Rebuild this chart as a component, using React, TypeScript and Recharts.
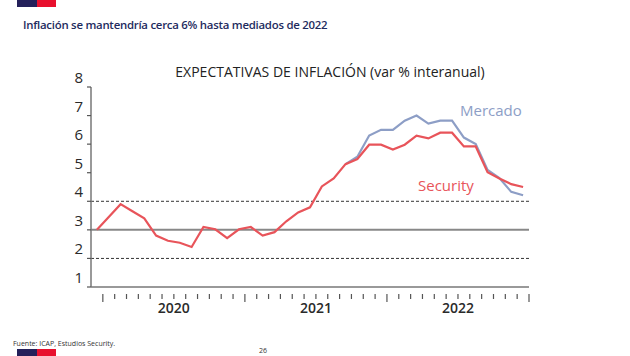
import React from "react";
import { LineChart, Line, XAxis, YAxis, ReferenceLine } from "recharts";

const months: string[] = [
  "dic-19",
  "ene-20", "feb-20", "mar-20", "abr-20", "may-20", "jun-20", "jul-20", "ago-20", "sep-20", "oct-20", "nov-20", "dic-20",
  "ene-21", "feb-21", "mar-21", "abr-21", "may-21", "jun-21", "jul-21", "ago-21", "sep-21", "oct-21", "nov-21", "dic-21",
  "ene-22", "feb-22", "mar-22", "abr-22", "may-22", "jun-22", "jul-22", "ago-22", "sep-22", "oct-22", "nov-22", "dic-22",
];

const security: number[] = [
  3.0, 3.45, 3.9, 3.65, 3.4, 2.8, 2.62, 2.55, 2.4, 3.1, 3.02, 2.71, 3.02, 3.1, 2.8, 2.92,
  3.3, 3.61, 3.79, 4.52, 4.8, 5.3, 5.48, 5.98, 5.98, 5.81, 5.98, 6.3, 6.2, 6.4, 6.4,
  5.92, 5.92, 5.02, 4.8, 4.6, 4.5,
];

const mercado: (number | null)[] = [
  null, null, null, null, null, null, null, null, null, null, null, null, null, null, null, null,
  null, null, null, null, null, 5.3, 5.56, 6.3, 6.5, 6.5, 6.82, 7.0, 6.72, 6.82, 6.82,
  6.23, 6.0, 5.1, 4.81, 4.33, 4.21,
];

const yTicks: number[] = [1, 2, 3, 4, 5, 6, 7, 8];
const yearLabels: { [k: number]: string } = { 7: "2020", 19: "2021", 31: "2022" };
const yearBoundaries: number[] = [1, 13, 25, 37];

const data = months.map((m, i) => ({
  month: m,
  x: i + 0.5,
  security: security[i],
  mercado: mercado[i],
}));

const xTicks: number[] = Array.from({ length: months.length + 1 }, (_, k) => k);

const FONT = "'Open Sans', 'Noto Sans', sans-serif";

const XTick = (props: any) => {
  const { x, y, payload } = props;
  const k = payload.value;
  const long = yearBoundaries.includes(k);
  const label = yearLabels[k];
  return (
    <g>
      {k > 0 && (
        <line x1={x} x2={x} y1={y - 1} y2={y + (long ? 7 : 4)} stroke="#555" strokeWidth={1.2} />
      )}
      {label && (
        <text x={x} y={y + 18} textAnchor="middle" fontSize={14} fontWeight={600} fill="#2a2a2a" fontFamily={FONT}>
          {label}
        </text>
      )}
    </g>
  );
};

const YTick = (props: any) => {
  const { x, y, payload } = props;
  return (
    <text x={x} y={y} dy={0} textAnchor="end" fontSize={15} fontWeight={500} fill="#2a2a2a" fontFamily={FONT}>
      {payload.value}
    </text>
  );
};

export default function App() {
  return (
    <div style={{ position: "absolute", left: 0, top: 0, width: 630, height: 356, background: "#fff", overflow: "hidden", fontFamily: FONT }}>
      <div style={{ position: "absolute", left: 17, top: 0, width: 20, height: 7, background: "#24205a" }} />
      <div style={{ position: "absolute", left: 37, top: 0, width: 19, height: 7, background: "#e8102e" }} />
      <div style={{ position: "absolute", left: 23, top: 17, fontSize: 11.4, fontWeight: 600, color: "#1e2b5e", whiteSpace: "nowrap", letterSpacing: -0.25 }}>
        Inflación se mantendría cerca 6% hasta mediados de 2022
      </div>
      <div style={{ position: "absolute", left: 0, width: 630, top: 62, textAlign: "center", fontSize: 14, fontWeight: 500, color: "#222", whiteSpace: "nowrap", paddingLeft: 30, boxSizing: "border-box" }}>
        EXPECTATIVAS DE INFLACIÓN (var % interanual)
      </div>
      <LineChart
        width={630}
        height={356}
        data={data}
        margin={{ top: 87, right: 101, bottom: 39, left: 61 }}
        style={{ position: "absolute", left: 0, top: 0 }}
      >
        <XAxis
          dataKey="x"
          type="number"
          domain={[0, months.length]}
          ticks={xTicks}
          interval={0}
          tickLine={false}
          tick={<XTick />}
          axisLine={{ stroke: "#777", strokeWidth: 1.5 }}
          height={30}
        />
        <YAxis
          type="number"
          domain={[1, 8]}
          ticks={yTicks}
          interval={0}
          width={30}
          tickSize={4}
          tickMargin={4}
          tickLine={{ stroke: "#555", strokeWidth: 1.2 }}
          axisLine={{ stroke: "#777", strokeWidth: 1.5 }}
          tick={(p: any) => <YTick {...p} y={p.y - 4} />}
        />
        <ReferenceLine y={4} stroke="#333" strokeDasharray="3 2" strokeWidth={1} />
        <ReferenceLine y={2} stroke="#333" strokeDasharray="3 2" strokeWidth={1} />
        <ReferenceLine y={3} stroke="#888" strokeWidth={2} />
        <Line
          type="linear"
          dataKey="mercado"
          stroke="#8d9ec6"
          strokeWidth={2.2}
          dot={false}
          isAnimationActive={false}
          connectNulls={false}
        />
        <Line
          type="linear"
          dataKey="security"
          stroke="#e8545a"
          strokeWidth={2.2}
          dot={false}
          isAnimationActive={false}
        />
      </LineChart>
      <div style={{ position: "absolute", left: 460, top: 100, fontSize: 15, color: "#8d9ec6", whiteSpace: "nowrap" }}>Mercado</div>
      <div style={{ position: "absolute", left: 418, top: 175, fontSize: 15, color: "#e8545a", whiteSpace: "nowrap" }}>Security</div>
      <div style={{ position: "absolute", left: 13, top: 339, fontSize: 7, color: "#333", whiteSpace: "nowrap" }}>Fuente: ICAP, Estudios Security.</div>
      <div style={{ position: "absolute", left: 259, top: 346, fontSize: 7, color: "#333" }}>26</div>
      <div style={{ position: "absolute", left: 17, top: 349, width: 20, height: 7, background: "#24205a" }} />
      <div style={{ position: "absolute", left: 37, top: 349, width: 19, height: 7, background: "#e8102e" }} />
    </div>
  );
}
